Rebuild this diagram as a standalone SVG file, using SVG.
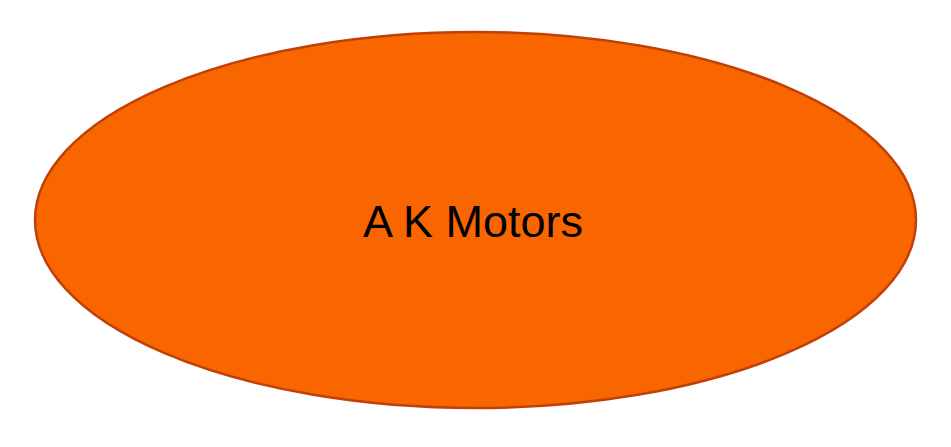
<svg xmlns="http://www.w3.org/2000/svg" width="951" height="447" viewBox="0 0 951 447">
<style>
.node{fill:#F96600;stroke:#C0400A;stroke-width:2.5}
.label{font-family:"Liberation Sans",Arial,sans-serif;font-size:45px;fill:#000}
</style>
<rect width="951" height="447" fill="#fff"/>
<g id="connectors"></g>
<g id="node-ak-motors">
<ellipse class="node" cx="475.5" cy="220" rx="440.5" ry="188"/>
<text class="label" x="473" y="237" text-anchor="middle">A K Motors</text>
</g>
</svg>
